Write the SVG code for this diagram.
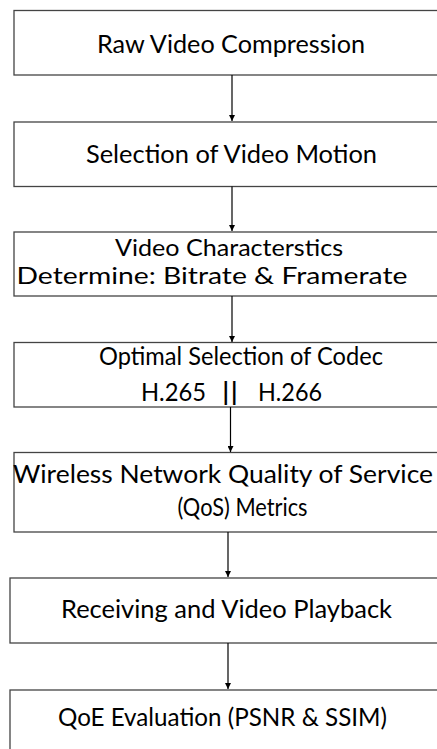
<svg xmlns="http://www.w3.org/2000/svg" width="437" height="749" viewBox="0 0 437 749">
<defs>
<style>
.box{fill:#fff;stroke:#444;stroke-width:1.3}
.t{font-family:"Lato","Open Sans","Liberation Sans",sans-serif;font-size:25px;fill:#000;text-anchor:middle}
.s{font-size:22.5px}
.c{stroke:#000;stroke-width:1.2;fill:none}
</style>
<marker id="ah" viewBox="0 0 10 10" refX="10" refY="5" markerWidth="6" markerHeight="6" markerUnits="userSpaceOnUse" orient="auto">
<path d="M0,0 L10,5 L0,10 z" fill="#000"/>
</marker>
</defs>
<rect width="437" height="749" fill="#fff"/>
<g id="n1"><rect class="box" x="14" y="10.5" width="440" height="64.5"/>
<text class="t" x="231" y="53" textLength="268" lengthAdjust="spacingAndGlyphs">Raw Video Compression</text></g>
<g id="n2"><rect class="box" x="14" y="122" width="440" height="64.5"/>
<text class="t" x="231.5" y="163" textLength="291" lengthAdjust="spacingAndGlyphs">Selection of Video Motion</text></g>
<g id="n3"><rect class="box" x="14" y="232" width="440" height="64"/>
<text class="t s" x="229" y="256" textLength="228" lengthAdjust="spacingAndGlyphs">Video Characterstics</text>
<text class="t s" x="212" y="284" textLength="391" lengthAdjust="spacingAndGlyphs">Determine: Bitrate &amp; Framerate</text></g>
<g id="n4"><rect class="box" x="14" y="342.5" width="440" height="64.5"/>
<text class="t" x="241" y="365" textLength="284" lengthAdjust="spacingAndGlyphs">Optimal Selection of Codec</text>
<text class="t" x="173.5" y="401" textLength="65" lengthAdjust="spacingAndGlyphs">H.265</text>
<text class="t" x="230" y="401" textLength="17" lengthAdjust="spacingAndGlyphs">||</text>
<text class="t" x="290" y="401" textLength="64" lengthAdjust="spacingAndGlyphs">H.266</text></g>
<g id="n5"><rect class="box" x="14" y="452.5" width="440" height="79.5"/>
<text class="t" x="223" y="483" textLength="420" lengthAdjust="spacingAndGlyphs">Wireless Network Quality of Service</text>
<text class="t" x="242.5" y="516" textLength="130" lengthAdjust="spacingAndGlyphs">(QoS) Metrics</text></g>
<g id="n6"><rect class="box" x="10" y="578" width="440" height="65"/>
<text class="t" x="226.5" y="618" textLength="331" lengthAdjust="spacingAndGlyphs">Receiving and Video Playback</text></g>
<g id="n7"><rect class="box" x="10" y="690" width="440" height="80"/>
<text class="t" x="222.5" y="726" textLength="329" lengthAdjust="spacingAndGlyphs">QoE Evaluation (PSNR &amp; SSIM)</text></g>
<g id="connectors">
<line class="c" x1="232" y1="75" x2="232" y2="121" marker-end="url(#ah)"/>
<line class="c" x1="232" y1="186.5" x2="232" y2="231" marker-end="url(#ah)"/>
<line class="c" x1="232" y1="296" x2="232" y2="342" marker-end="url(#ah)"/>
<line class="c" x1="230.5" y1="407" x2="230.5" y2="452" marker-end="url(#ah)"/>
<line class="c" x1="228" y1="532" x2="228" y2="577" marker-end="url(#ah)"/>
<line class="c" x1="228" y1="643" x2="228" y2="689" marker-end="url(#ah)"/>
</g>
</svg>
